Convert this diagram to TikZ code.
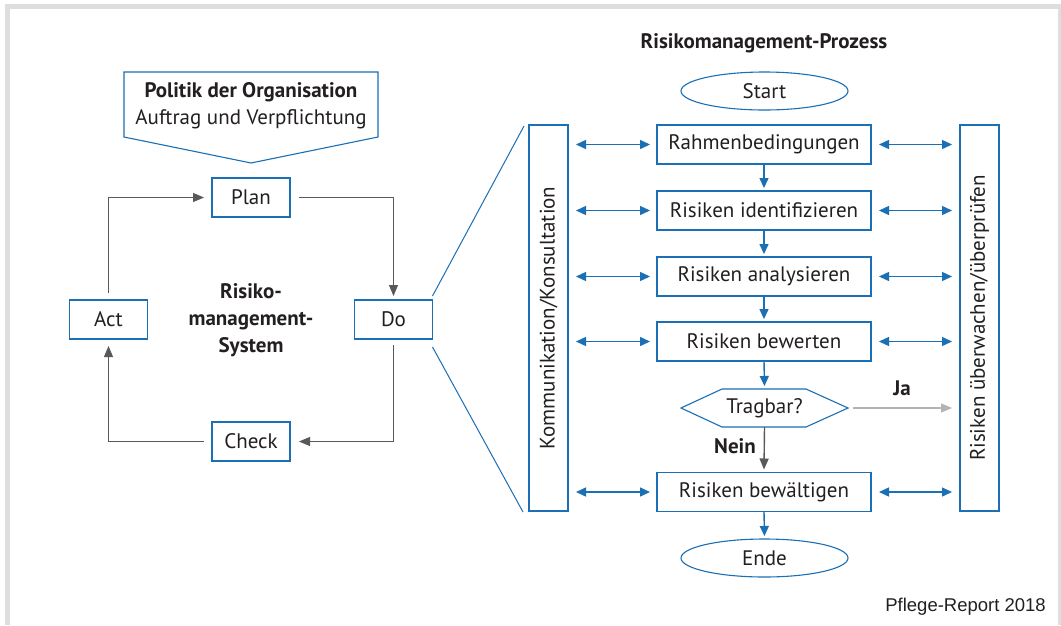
\documentclass[tikz,border=0pt]{standalone}
\usepackage{fontspec}
\setmainfont{PT Sans}
\newfontfamily\arialfont{Liberation Sans}
\usetikzlibrary{arrows.meta,shapes.geometric,calc}
\definecolor{rblue}{HTML}{1A6FB5}
\definecolor{rtext}{HTML}{231F20}
\definecolor{rgrayarrow}{HTML}{58595B}
\definecolor{rlight}{HTML}{B3B3B3}
\definecolor{rframe}{HTML}{DEDEDE}
\begin{document}
\begin{tikzpicture}[x=1pt,y=-1pt,
  font=\fontsize{21}{23}\selectfont, text=rtext,
  box/.style={draw=rblue, line width=1.1pt, fill=white, inner sep=0pt, outer sep=0pt,
    minimum height=39pt},
  pbox/.style={box, minimum width=214pt},
  cbox/.style={box, minimum width=78pt},
  oval/.style={ellipse, draw=rblue, line width=1.1pt, inner sep=0pt, outer sep=0pt,
    minimum width=167pt, minimum height=38pt},
  sidebox/.style={draw=rblue, line width=1.1pt, inner sep=0pt, outer sep=0pt,
    minimum width=39pt, minimum height=386pt},
  garrow/.style={draw=rgrayarrow, line width=1pt, -{Triangle[length=11pt,width=9pt]}},
  barrow/.style={draw=rblue, line width=1.4pt, -{Triangle[length=10pt,width=9pt]}},
  darrow/.style={draw=rblue, line width=1.4pt, {Triangle[length=10pt,width=9pt]}-{Triangle[length=10pt,width=9pt]}},
  lbl/.style={font=\fontsize{21}{23}\selectfont\bfseries, inner sep=0pt}
]
% frame
\fill[rframe] (5,4) rectangle (1061,625);
\fill[white] (10,9) rectangle (1058,625);
\useasboundingbox (0,0) rectangle (1061,625);

% ---------- left: PDCA ----------
\draw[rblue, line width=1.1pt, fill=white] (124,72) -- (378,72) -- (378,137) -- (251,163) -- (124,137) -- cycle;
\node[align=center, inner sep=0pt, font=\fontsize{21}{27}\selectfont] (politik) at (251,106)
  {{\bfseries Politik der Organisation}\\ Auftrag und Verpflichtung};

\node[cbox] (plan)  at (251,197.5) {Plan};
\node[cbox] (do)    at (393.5,319.5) {Do};
\node[cbox] (act)   at (108.5,319.5) {Act};
\node[cbox] (check) at (251,441.5) {Check};
\node[lbl, align=center, font=\fontsize{21}{27}\selectfont\bfseries] (rms) at (251,320) {Risiko-\\management-\\System};

\draw[garrow] ([yshift=7pt]act.north) |- ([xshift=-8pt]plan.west);
\draw[garrow] ([xshift=9pt]plan.east) -| ([yshift=4pt]do.north);
\draw[garrow] ([yshift=-6pt]do.south) |- ([xshift=9pt]check.east);
\draw[garrow] ([xshift=-8pt]check.west) -| ([yshift=-7pt]act.south);

% ---------- right: process ----------
\node[lbl] (title) at (764,43) {Risikomanagement-Prozess};
\node[oval] (start) at (764.5,91) {Start};
\node[pbox] (rahmen) at (764,144.5) {Rahmenbedingungen};
\node[pbox] (ident)  at (764,210.5) {Risiken identifizieren};
\node[pbox] (analy)  at (764,276.5) {Risiken analysieren};
\node[pbox] (bewert) at (764,341.5) {Risiken bewerten};
\node[inner sep=0pt, outer sep=0pt, minimum width=167pt, minimum height=38pt] (trag) at (764.5,408) {Tragbar?};
\draw[rblue, line width=1.1pt] (trag.west) -- ([xshift=41pt]trag.north west) -- ([xshift=-42pt]trag.north east)
  -- (trag.east) -- ([xshift=-42pt]trag.south east) -- ([xshift=41pt]trag.south west) -- cycle;
\node[pbox] (bewaelt) at (764,492) {Risiken bewältigen};
\node[oval] (ende) at (764.5,558) {Ende};

\node[sidebox] (komm) at (548.5,318) {};
\node[rotate=90, inner sep=0pt] (kommtext) at (komm.center) {Kommunikation/Konsultation};
\node[sidebox] (ueber) at (979.5,318) {};
\node[rotate=90, inner sep=0pt] (uebertext) at (ueber.center) {Risiken überwachen/überprüfen};

% zoom lines
\draw[rblue, line width=1pt] ([yshift=4pt]do.north east) -- ($(komm.north west)+(-5,1)$);
\draw[rblue, line width=1pt] ([yshift=-8pt]do.south east) -- ($(komm.south west)+(-6,1)$);

% vertical flow
\draw[barrow] (rahmen.south) -- ([yshift=3pt]ident.north);
\draw[barrow] (ident.south) -- ([yshift=3pt]analy.north);
\draw[barrow] (analy.south) -- ([yshift=3pt]bewert.north);
\draw[barrow] (bewert.south) -- ([yshift=3pt]trag.north);
\draw[draw=rgrayarrow, line width=1.4pt, -{Triangle[length=11pt,width=9pt]}] (trag.south) -- ([yshift=3pt]bewaelt.north);
\node[lbl, anchor=east] (nein) at (756,446) {Nein};

\draw[barrow] (bewaelt.south) -- ([yshift=3pt]ende.north);

% Ja
\draw[draw=rlight, line width=1.3pt, -{Triangle[length=11pt,width=9pt]}] ([xshift=5pt]trag.east) -- ($(ueber.west |- trag.east)+(-8,0)$);
\node[lbl] (ja) at (902,388) {Ja};

% side double arrows
\foreach \n in {rahmen,ident,analy,bewert,bewaelt}{
  \draw[darrow] ($(komm.east |- \n.west)+(8,0)$) -- ($(\n.west)+(-7,0)$);
  \draw[darrow] ($(\n.east)+(8,0)$) -- ($(ueber.west |- \n.east)+(-8,0)$);
}

\node[font=\arialfont\fontsize{18.5}{20}\selectfont, anchor=east, inner sep=0pt] (src) at (1046,607) {Pflege-Report 2018};
\end{tikzpicture}
\end{document}
